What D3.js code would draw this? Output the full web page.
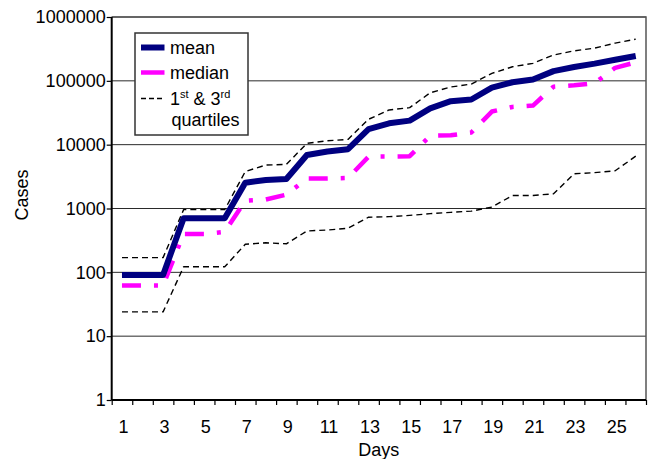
<!DOCTYPE html>
<html lang="en">
<head>
<meta charset="UTF-8">
<title>Cases by day</title>
<script src="https://d3js.org/d3.v7.min.js"></script>
<style>
    body { margin: 0; background: #fff; }
    svg { display: block; font-family: 'Liberation Sans', Arial, sans-serif; }
    .tick text { font-size: 18px; fill: #000; }
</style>
</head>
<body>
<svg id="chart" width="649" height="459"></svg>
<script>
    // Data
    const days = [1, 2, 3, 4, 5, 6, 7, 8, 9, 10, 11, 12, 13, 14, 15, 16, 17, 18, 19, 20, 21, 22, 23, 24, 25, 26];
    const meanVals = [91, 91, 91, 705, 705, 705, 2540, 2800, 2900, 6900, 7800, 8500, 17500, 21600, 23800,
        37000, 48000, 51000, 78000, 95000, 105000, 142000, 165000, 186000, 214000, 245000];
    const medianVals = [62, 62, 62, 400, 400, 430, 1330, 1380, 1650, 2950, 2950, 3000, 6500, 6500, 6600,
        13800, 14000, 15500, 33000, 39000, 41000, 81000, 85000, 92000, 160000, 195000];
    const q3Vals = [170, 170, 170, 960, 960, 960, 3800, 4800, 4900, 10500, 11500, 12100, 25000, 35000, 38000,
        65000, 80000, 89000, 131000, 166000, 188000, 254000, 295000, 325000, 390000, 450000];
    const q1Vals = [24, 24, 24, 122, 122, 122, 275, 290, 280, 445, 460, 490, 730, 745, 780,
        830, 870, 910, 1050, 1600, 1600, 1700, 3500, 3650, 3900, 6600];
    const yTicks = [1, 10, 100, 1000, 10000, 100000, 1000000];
    const xLabelDays = [1, 3, 5, 7, 9, 11, 13, 15, 17, 19, 21, 23, 25];

    const svg = d3.select("#chart");
    const plotLeft = 111.7, plotRight = 646, plotTop = 17, plotBottom = 400;

    const x = d3.scaleBand().domain(days).range([plotLeft, plotRight]).padding(0);
    const y = d3.scaleLog().domain([1, 1000000]).range([plotBottom, plotTop]);
    const cx = d => x(d) + x.bandwidth() / 2;

    // gridlines
    svg.append("g")
        .selectAll("line")
        .data(yTicks)
        .join("line")
        .attr("x1", plotLeft).attr("x2", plotRight)
        .attr("y1", d => y(d)).attr("y2", d => y(d))
        .attr("stroke", "#2a2a2a")
        .attr("stroke-width", 1);

    // plot area border (top and right)
    svg.append("path")
        .attr("d", `M${plotLeft},${plotTop}H${plotRight}V${plotBottom}`)
        .attr("fill", "none")
        .attr("stroke", "#555")
        .attr("stroke-width", 1.5);

    // y axis
    const yAxis = svg.append("g")
        .attr("transform", `translate(${plotLeft},0)`)
        .call(d3.axisLeft(y).tickValues(yTicks).tickFormat(d3.format("d")).tickSize(5).tickPadding(1));
    yAxis.select(".domain").attr("stroke", "#000").attr("stroke-width", 2)
        .attr("d", `M0,${plotTop}V${plotBottom}`);
    yAxis.selectAll(".tick line").attr("stroke", "#000").attr("stroke-width", 1.2);
    yAxis.attr("font-family", null).attr("font-size", null);

    // x axis: ticks at category boundaries
    const xb = d3.scaleLinear().domain([0, days.length]).range([plotLeft, plotRight]);
    const xAxis = svg.append("g")
        .attr("transform", `translate(0,${plotBottom})`)
        .call(d3.axisBottom(xb).tickValues(d3.range(0, days.length + 1)).tickFormat("").tickSize(5));
    xAxis.select(".domain").attr("stroke", "#000").attr("stroke-width", 2)
        .attr("d", `M${plotLeft},0H${plotRight}`);
    xAxis.selectAll(".tick line").attr("stroke", "#000").attr("stroke-width", 1.2);

    // x labels at centers of odd days
    svg.append("g")
        .selectAll("text")
        .data(xLabelDays)
        .join("text")
        .attr("x", d => cx(d) + 1.5)
        .attr("y", 433)
        .attr("text-anchor", "middle")
        .attr("font-size", 18)
        .text(d => d);

    // axis titles
    svg.append("text")
        .attr("x", (plotLeft + plotRight) / 2)
        .attr("y", 456)
        .attr("text-anchor", "middle")
        .attr("font-size", 18)
        .text("Days");

    svg.append("text")
        .attr("transform", "translate(28,195) rotate(-90)")
        .attr("text-anchor", "middle")
        .attr("font-size", 18)
        .text("Cases");

    // series
    const line = d3.line().x((d, i) => cx(days[i])).y(d => y(d));

    const series = [
        { vals: q1Vals, color: "#000", width: 1.4, dash: "6,4" },
        { vals: q3Vals, color: "#000", width: 1.4, dash: "6,4" },
        { vals: medianVals, color: "#FF00FF", width: 4.5, dash: "19,13,4,13" },
        { vals: meanVals, color: "#000080", width: 6, dash: null }
    ];

    series.forEach(s => {
        svg.append("path")
            .datum(s.vals)
            .attr("fill", "none")
            .attr("stroke", s.color)
            .attr("stroke-width", s.width)
            .attr("stroke-dasharray", s.dash)
            .attr("stroke-linejoin", "round")
            .attr("d", line);
    });

    // legend
    const legend = svg.append("g");
    legend.append("rect")
        .attr("x", 135).attr("y", 33)
        .attr("width", 113).attr("height", 102)
        .attr("fill", "#fff")
        .attr("stroke", "#333")
        .attr("stroke-width", 1.5);

    const legendItems = [
        { y: 47.5, color: "#000080", width: 6, dash: null, text: "mean", ty: 53.5 },
        { y: 72.5, color: "#FF00FF", width: 4.5, dash: null, text: "median", ty: 78.5 },
        { y: 98.5, color: "#000", width: 1.4, dash: "5,3", text: null, ty: 105 }
    ];
    legendItems.forEach(it => {
        legend.append("line")
            .attr("x1", 141).attr("x2", 164.5)
            .attr("y1", it.y).attr("y2", it.y)
            .attr("stroke", it.color)
            .attr("stroke-width", it.width)
            .attr("stroke-dasharray", it.dash);
        if (it.text) {
            legend.append("text")
                .attr("x", 170).attr("y", it.ty)
                .attr("font-size", 18)
                .text(it.text);
        }
    });

    const q = legend.append("text").attr("x", 170).attr("y", 105).attr("font-size", 18);
    q.append("tspan").text("1");
    q.append("tspan").attr("font-size", 11).attr("dy", -7).text("st");
    q.append("tspan").attr("dy", 7).text(" & 3");
    q.append("tspan").attr("font-size", 11).attr("dy", -7).text("rd");

    legend.append("text")
        .attr("x", 171.5).attr("y", 126)
        .attr("font-size", 18)
        .text("quartiles");
</script>
</body>
</html>
